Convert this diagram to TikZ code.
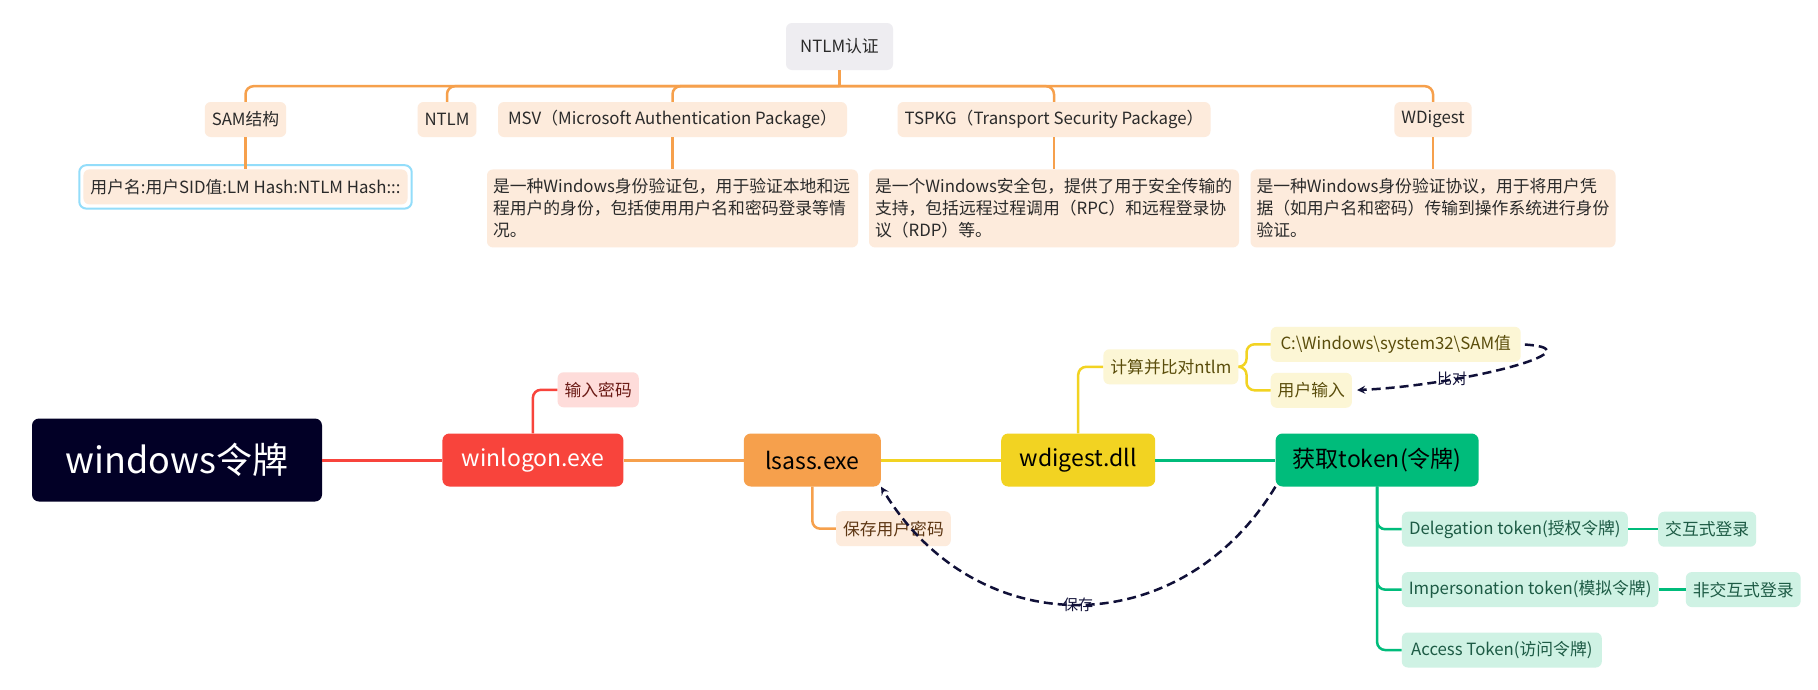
\documentclass[tikz,border=0pt]{standalone}
\usepackage{fontspec}
\setmainfont{Noto Sans CJK SC}
\usepackage{xcolor}
\usetikzlibrary{arrows, positioning, calc}

\definecolor{navy}{HTML}{020026}
\definecolor{darktext}{HTML}{2A2A2A}
\definecolor{graybox}{HTML}{EEEDF1}
\definecolor{selblue}{HTML}{93DDFA}
\definecolor{redmain}{HTML}{F8443C}
\definecolor{redlight}{HTML}{FEDCDA}
\definecolor{redtext}{HTML}{6B1A15}
\definecolor{orgmain}{HTML}{F6A04C}
\definecolor{orglight}{HTML}{FDEBDC}
\definecolor{orgtext}{HTML}{5E3714}
\definecolor{ylwmain}{HTML}{F2D322}
\definecolor{ylwlight}{HTML}{FCF6D5}
\definecolor{ylwtext}{HTML}{5A4D0B}
\definecolor{grnmain}{HTML}{00BC7B}
\definecolor{grnlight}{HTML}{CFF2E4}
\definecolor{grntext}{HTML}{1D5B45}
\definecolor{dashnavy}{HTML}{101038}

\begin{document}
\begin{tikzpicture}[
    x=1pt, y=-1pt,
    node distance=120pt,
    topic/.style={rectangle, rounded corners=7pt, inner xsep=12pt,
                  minimum height=53pt, font=\fontsize{23}{28}\selectfont},
    rootbox/.style={topic, fill=navy, text=white, minimum width=290pt,
                    minimum height=83pt, font=\fontsize{36}{40}\selectfont},
    sub/.style={rectangle, rounded corners=6pt, inner xsep=7pt,
                minimum height=35pt, font=\fontsize{16.8}{22}\selectfont},
    topsub/.style={sub, fill=orglight, text=darktext},
    desc/.style={sub, fill=orglight, text=darktext, align=left,
                 inner xsep=6pt, inner ysep=8pt, minimum height=78pt},
    redsub/.style={sub, fill=redlight, text=redtext},
    orgsub/.style={sub, fill=orglight, text=orgtext},
    ylwsub/.style={sub, fill=ylwlight, text=ylwtext},
    grnsub/.style={sub, fill=grnlight, text=grntext},
    link/.style={line width=3pt},
    branch/.style={line width=2.5pt, rounded corners=8pt},
    treeline/.style={line width=2.5pt, orgmain},
    dashlink/.style={->, >=stealth, dashed, dash pattern=on 9pt off 5pt,
                     line width=2.5pt, dashnavy},
    lbl/.style={font=\fontsize{15}{18}\selectfont, text=dashnavy, inner sep=1pt}
]

\fill[white] (0,0) rectangle (1818,689);
\useasboundingbox (0,0) rectangle (1818,689);

%% --- NTLM tree ---
\node[sub, fill=graybox, text=darktext, minimum width=107pt, minimum height=47pt] (auth) at (839.5,46.5) {NTLM认证};

\node[topsub] (sam)   at (245.5,119.5) {SAM结构};
\node[topsub] (ntlm)  at (447,119.5)   {NTLM};
\node[topsub, minimum width=349pt] (msv)   at (672.5,119.5) {MSV（Microsoft Authentication Package）};
\node[topsub, minimum width=313pt] (tspkg) at (1054,119.5)  {TSPKG（Transport Security Package）};
\node[topsub] (wdig)  at (1433,119.5)  {WDigest};

\node[topsub, minimum width=320pt, below=32pt of sam] (samdesc) {用户名:用户SID值:LM Hash:NTLM Hash:::};
\draw[selblue, line width=2pt, rounded corners=7pt]
    ($(samdesc.south west)+(-4,4)$) rectangle ($(samdesc.north east)+(4,-4)$);

\node[desc, text width=359pt, below=32pt of msv] (msvdesc)
      {是一种Windows身份验证包，用于验证本地和远\\程用户的身份，包括使用用户名和密码登录等情\\况。};
\node[desc, text width=358pt, below=32pt of tspkg] (tspkgdesc)
      {是一个Windows安全包，提供了用于安全传输的\\支持，包括远程过程调用（RPC）和远程登录协\\议（RDP）等。};
\node[desc, text width=353pt, below=32pt of wdig] (wdigdesc)
      {是一种Windows身份验证协议，用于将用户凭\\据（如用户名和密码）传输到操作系统进行身份\\验证。};

\coordinate (bus) at ($(auth.south)+(0,16)$);
\draw[treeline] (auth.south) -- (bus);
\foreach \n in {sam, ntlm, msv, tspkg, wdig}
    \draw[treeline, rounded corners=8pt] (bus) -| (\n.north);
\foreach \a/\b in {sam/samdesc, msv/msvdesc, tspkg/tspkgdesc, wdig/wdigdesc}
    \draw[treeline] (\a.south) -- (\b.north);

%% --- Token flow ---
\node[rootbox] (root) at (177,460) {windows令牌};
\node[topic, fill=redmain, text=white, minimum width=181pt, right=of root]     (winlogon) {winlogon.exe};
\node[topic, fill=orgmain, text=black, minimum width=137pt, right=of winlogon] (lsass)    {lsass.exe};
\node[topic, fill=ylwmain, text=black, minimum width=154pt, right=of lsass]    (wdigest)  {wdigest.dll};
\node[topic, fill=grnmain, text=black, minimum width=203pt, right=of wdigest]  (token)    {获取token(令牌)};

\node[redsub, anchor=west] (pwdin)   at ($(winlogon.north)+(24.5,-43.5)$) {输入密码};
\node[orgsub, anchor=west] (pwdsave) at ($(lsass.south)+(23.5,42)$)       {保存用户密码};

\node[ylwsub, anchor=west, minimum width=132pt] (calc)   at ($(wdigest.north)+(25,-66.5)$) {计算并比对ntlm};
\node[ylwsub, anchor=west, minimum width=250pt] (samval) at ($(calc.east)+(32,-22.5)$)    {C:\textbackslash Windows\textbackslash system32\textbackslash SAM值};
\node[ylwsub, anchor=west] (userin) at ($(calc.east)+(32,23.5)$) {用户输入};

\node[grnsub, anchor=west, minimum width=226pt] (deleg) at ($(token.south)+(24.5,42.5)$) {Delegation token(授权令牌)};
\node[grnsub, minimum width=253pt, below=25pt of deleg.south west, anchor=north west]    (imperson) {Impersonation token(模拟令牌)};
\node[grnsub, minimum width=200pt, below=25pt of imperson.south west, anchor=north west] (access)   {Access Token(访问令牌)};
\node[grnsub, right=30pt of deleg]    (interact)    {交互式登录};
\node[grnsub, right=27pt of imperson] (noninteract) {非交互式登录};

%% --- Main links ---
\draw[link, redmain] (root)     -- (winlogon);
\draw[link, orgmain] (winlogon) -- (lsass);
\draw[link, ylwmain] (lsass)    -- (wdigest);
\draw[link, grnmain] (wdigest)  -- (token);

%% --- Branches ---
\draw[branch, redmain] (winlogon.north) |- (pwdin.west);
\draw[branch, orgmain] (lsass.south) |- (pwdsave.west);
\draw[branch, ylwmain] (wdigest.north) |- (calc.west);
\draw[branch, ylwmain] (calc.east) -- ++(8,0) |- (samval.west);
\draw[branch, ylwmain] (calc.east) -- ++(8,0) |- (userin.west);
\foreach \n in {deleg, imperson, access}
    \draw[branch, grnmain] (token.south) |- (\n.west);
\draw[branch, grnmain] (deleg)    -- (interact);
\draw[branch, grnmain] (imperson) -- (noninteract);

%% --- Dashed relations ---
\draw[dashlink] (token.south west) .. controls +(-95,157) and +(95,157) ..
    node[lbl, pos=0.5] {保存} (lsass.south east);
\draw[dashlink, shorten >=5pt, shorten <=4pt] (samval.east) .. controls +(80,5) and +(110,-5) ..
    node[lbl, pos=0.7] {比对} (userin.east);

\end{tikzpicture}
\end{document}
